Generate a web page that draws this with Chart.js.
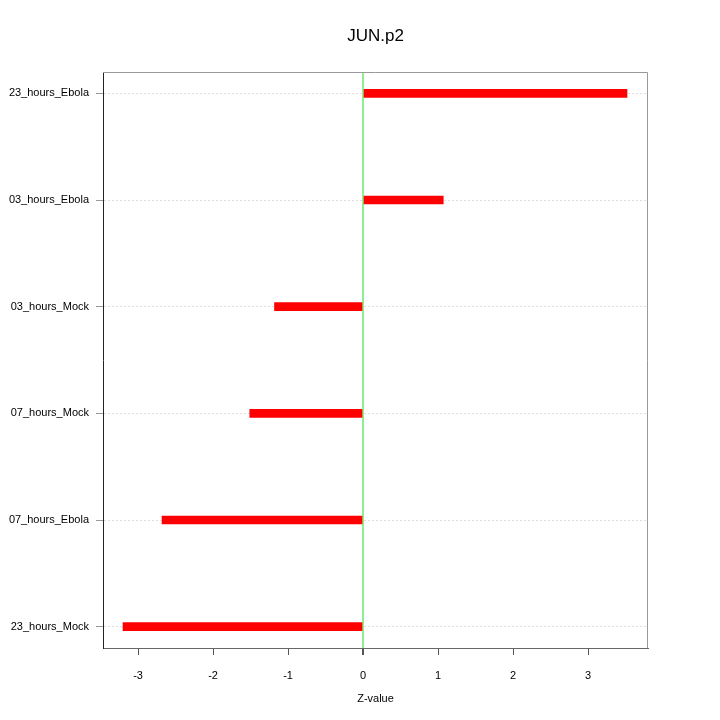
<!DOCTYPE html>
<html>
<head>
<meta charset="utf-8">
<script src="https://cdn.jsdelivr.net/npm/chart.js@4"></script>
<style>
  html, body { margin: 0; padding: 0; background: #fff; }
  #wrap { width: 720px; height: 720px; }
</style>
</head>
<body>
<div id="wrap"><canvas id="chart" width="720" height="720"></canvas></div>
<script>
// categories from top to bottom
var categories = ["23_hours_Ebola", "03_hours_Ebola", "03_hours_Mock", "07_hours_Mock", "07_hours_Ebola", "23_hours_Mock"];
var zValues = [3.52, 1.07, -1.18, -1.51, -2.68, -3.20];
var xTicks = [-3, -2, -1, 0, 1, 2, 3];

Chart.defaults.font.family = "'Liberation Sans', Arial, sans-serif";
Chart.defaults.color = "#000";

// top and right sides of the plot box
var boxPlugin = {
  id: "box",
  afterDraw: function (chart) {
    var a = chart.chartArea;
    var ctx = chart.ctx;
    ctx.save();
    ctx.strokeStyle = "#999";
    ctx.lineWidth = 1;
    ctx.beginPath();
    ctx.moveTo(a.left, a.top + 0.5);
    ctx.lineTo(a.right - 0.5, a.top + 0.5);
    ctx.lineTo(a.right - 0.5, a.bottom);
    ctx.stroke();
    ctx.restore();
  }
};

var ctx = document.getElementById("chart").getContext("2d");
var myChart = new Chart(ctx, {
  type: "bar",
  data: {
    datasets: [
      {
        label: "Z-value",
        data: zValues.map(function (v, i) { return { x: v, y: i }; }),
        backgroundColor: "#ff0000",
        borderWidth: 0,
        barThickness: 8,
      },
    ],
  },
  options: {
    indexAxis: "y",
    responsive: false,
    animation: false,
    layout: { padding: { left: 0, right: 72, top: 0, bottom: 0 } },
    plugins: {
      legend: { display: false },
      tooltip: { enabled: false },
      title: {
        display: true,
        fullSize: false,
        text: "JUN.p2",
        color: "#000",
        font: { size: 17, weight: "normal" },
        padding: { top: 26, bottom: 25.6 },
      },
    },
    scales: {
      x: {
        type: "linear",
        min: -3.467,
        max: 3.8,
        afterBuildTicks: function (scale) {
          scale.ticks = xTicks.map(function (v) { return { value: v }; });
        },
        afterFit: function (scale) { scale.height = 72; },
        grid: {
          color: function (c) { return c.tick && c.tick.value === 0 ? "#90ee90" : "rgba(0,0,0,0)"; },
          lineWidth: function (c) { return c.tick && c.tick.value === 0 ? 2 : 1; },
          tickColor: "#555",
          tickLength: 7,
        },
        border: { display: true, color: "#666", width: 1 },
        ticks: { padding: 14, font: { size: 11 }, color: "#000" },
        title: {
          display: true,
          text: "Z-value",
          font: { size: 11 },
          color: "#000",
          padding: { top: 0, bottom: 14 },
        },
      },
      y: {
        type: "linear",
        reverse: true,
        offset: false,
        min: -0.2,
        max: 5.2,
        z: 1,
        afterBuildTicks: function (scale) {
          scale.ticks = categories.map(function (c, i) { return { value: i }; });
        },
        afterFit: function (scale) { scale.width = 103; },
        grid: {
          offset: false,
          color: "#dedede",
          lineWidth: 1,
          tickColor: "#999",
          tickLength: 7,
          tickBorderDash: [],
        },
        border: { display: true, color: "#222", width: 1, dash: [2, 2] },
        ticks: {
          padding: 7,
          font: { size: 11 },
          color: "#000",
          callback: function (v) { return categories[v]; },
        },
      },
    },
  },
  plugins: [boxPlugin],
});
</script>
</body>
</html>
